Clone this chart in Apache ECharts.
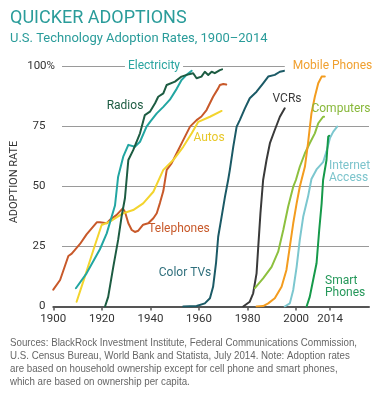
<!DOCTYPE html>
<html><head><meta charset="utf-8">
<script src="https://cdn.jsdelivr.net/npm/echarts@6/dist/echarts.min.js"></script>
<style>html,body{margin:0;padding:0;background:#fff}#c{width:374px;height:400px}</style>
</head><body><div id="c"></div>
<script>
// ---- data ----
const xTickYears = [1900, 1920, 1940, 1960, 1980, 2000, 2014];
const yTicks = [0, 25, 50, 75, 100];

const telYears = [1900, 1902.8, 1906.2, 1907.6, 1911, 1913.7, 1917.9, 1919.2, 1922, 1923.3, 1926, 1928.6, 1929.5, 1930.9, 1932.3, 1933.6, 1935, 1937, 1939.1, 1941.2, 1942.6, 1943.9, 1945.3, 1946.7, 1948.7, 1950.8, 1953.5, 1956.3, 1959, 1961, 1963.1, 1965.8, 1967.9, 1968.6, 1970, 1971.2];
const telVals  = [7, 11, 21, 22, 26, 30, 35, 35, 34.6, 36, 38, 40.8, 39.4, 34.6, 31.8, 31, 31.5, 34, 34.6, 36.7, 38.8, 43, 48, 56.8, 59.5, 63.7, 69.2, 74.8, 77.5, 79, 81.7, 87.2, 90.7, 92.1, 92.5, 92.3];

const elecYears = [1909.3, 1913.7, 1919.2, 1922, 1925.4, 1926.7, 1928.8, 1930.9, 1933.6, 1935.7, 1938.4, 1940, 1942.6, 1945.3, 1948, 1950.8, 1952.8, 1954.9, 1957];
const elecVals  = [7.6, 13.8, 23.8, 30.4, 42, 54, 62.3, 67.2, 66.4, 68.5, 74.8, 77, 80.3, 83, 86, 90.5, 94.2, 96.3, 98];

const radYears = [1921.3, 1922.6, 1924.7, 1926.7, 1928.1, 1929.5, 1930.9, 1932.9, 1935.7, 1937.7, 1939.8, 1941.9, 1943.2, 1945.3, 1946.7, 1950.1, 1952.8, 1954.9, 1957.6, 1959, 1961, 1962.4, 1963.8, 1965.2, 1966.5, 1968.6, 1969.5];
const radVals  = [0, 4, 16.5, 27.7, 37.3, 45, 60.9, 65, 72, 79.6, 81, 84.5, 87.2, 88.6, 92.1, 93.5, 95.6, 96.3, 97, 94.9, 95.6, 97.6, 96.3, 97.6, 97, 98.3, 98.6];

const autoYears = [1909.6, 1913, 1916.5, 1919.9, 1923.3, 1928.8, 1932.9, 1937, 1941.2, 1945.3, 1949.4, 1953.5, 1957, 1959.7, 1964.5, 1969.3];
const autoVals  = [2, 12.4, 23.5, 33.9, 35.3, 38.8, 40.1, 42.9, 47.7, 56.8, 60.9, 66.4, 72, 76.8, 78.9, 81.3];

const ctvYears = [1953.5, 1959, 1962.4, 1964.5, 1965.8, 1967, 1967.9, 1969.3, 1970.7, 1972, 1972.7, 1974.1, 1975.5, 1976.8, 1978.9, 1980.9, 1983.7, 1986.4, 1988.5, 1991.2, 1993.3, 1995.3];
const ctvVals  = [0, 0.2, 1.3, 3.4, 8.2, 18, 29, 37.3, 45.7, 52.6, 56.8, 66.4, 74.8, 77.5, 82.4, 86.6, 89.3, 92.8, 95.6, 96.3, 97.6, 98];

const vcrYears = [1978.2, 1980.9, 1982.3, 1983.7, 1984.4, 1985.3, 1986.4, 1987.8, 1989.2, 1991.2, 1993.3, 1995.3];
const vcrVals  = [0, 2, 5.5, 13.8, 24.9, 38.8, 52.6, 60.9, 67.9, 73.4, 78.9, 82.4];

const compYears = [1983, 1986.4, 1989.9, 1992.6, 1994.7, 1996.7, 1998.8, 1999.9, 2001.5, 2003.6, 2005.6, 2007.7, 2009.1, 2009.8, 2011.1, 2011.5];
const compVals  = [7.6, 11.7, 16.5, 22.8, 31.8, 41.5, 49.8, 52.6, 58.1, 63.7, 67.9, 72, 76.2, 76.8, 78.9, 78.9];

const mobYears = [1983.7, 1986.4, 1988.5, 1991.2, 1994, 1996, 1997.4, 1998.8, 2000.2, 2001.5, 2002.2, 2003.6, 2004.9, 2006.3, 2007.7, 2009.1, 2010.5, 2011.8];
const mobVals  = [0, 0.2, 1.3, 3.4, 8.2, 15.2, 24.9, 34.6, 42.9, 49.8, 52.6, 58.1, 67.9, 80.3, 87.2, 92.8, 95.6, 95.6];

const netYears = [1995.3, 1997.4, 1998.8, 2000.2, 2001.5, 2002.9, 2004.9, 2006.3, 2008.4, 2011.1, 2012.5, 2013.9, 2015.3, 2016.9];
const netVals  = [0, 1.3, 6.9, 16.5, 27.7, 37.3, 45.7, 53, 57, 60, 64.5, 70, 72.7, 74.8];

const smYears = [2004.3, 2005.6, 2007, 2008.4, 2009.5, 2010.5, 2011.1, 2012.5, 2013.2, 2013.6];
const smVals  = [0, 4, 11, 18, 31.8, 42.9, 52.6, 60.9, 70.6, 71];

const footLines = [
  'Sources: BlackRock Investment Institute, Federal Communications Commission,',
  'U.S. Census Bureau, World Bank and Statista, July 2014. Note: Adoption rates',
  'are based on household ownership except for cell phone and smart phones,',
  'which are based on ownership per capita.'
];

// ---- chart ----
const zip = (xs, ys) => xs.map((x, i) => [x, ys[i]]);
const FONT = 'Roboto, "Open Sans", sans-serif';
const FOOT_FONT = '11.5px "Liberation Sans", Arial, sans-serif';

// horizontally condense footnote to the reference's width
const ctx = document.createElement('canvas').getContext('2d');
ctx.font = FOOT_FONT;
const footW = Math.max(...footLines.map(l => ctx.measureText(l).width));
const footScale = 347 / footW;

const seriesDefs = [
  ['Telephones', telYears, telVals, '#c8592a'],
  ['Autos', autoYears, autoVals, '#f3d42e'],
  ['Electricity', elecYears, elecVals, '#22a6a2'],
  ['Radios', radYears, radVals, '#1d5c42'],
  ['Color TVs', ctvYears, ctvVals, '#1b5a66'],
  ['VCRs', vcrYears, vcrVals, '#3a3a3a'],
  ['Computers', compYears, compVals, '#8dc03f'],
  ['Mobile Phones', mobYears, mobVals, '#f39c1f'],
  ['Internet Access', netYears, netVals, '#7cc7cf'],
  ['Smart Phones', smYears, smVals, '#169a4a']
];

const chart = echarts.init(document.getElementById('c'), null, {renderer: 'canvas'});

const label = (text, x, y, color, extra) => ({
  type: 'text', z: 100,
  style: Object.assign({text, x, y, fill: color, font: '12px ' + FONT, textAlign: 'center', textVerticalAlign: 'middle'}, extra || {})
});

chart.setOption({
  animation: false,
  backgroundColor: '#fff',
  grid: [
    {left: 53.3, right: 5, top: 66, bottom: 93.5},
    {left: 62, right: 5, top: 66, bottom: 93.5}
  ],
  xAxis: [
    {
      type: 'value', gridIndex: 0, min: 1900, max: 2030,
      axisLine: {show: true, lineStyle: {color: '#555', width: 2}},
      axisTick: {show: true, length: 4, lineStyle: {color: '#555', width: 1.5}, customValues: xTickYears},
      axisLabel: {customValues: xTickYears, color: '#333', fontSize: 11.5, fontFamily: FONT, margin: 7, formatter: v => String(v)},
      splitLine: {show: false}
    },
    {type: 'value', gridIndex: 1, min: 0, max: 1, show: false}
  ],
  yAxis: [
    {type: 'value', gridIndex: 0, min: 0, max: 100, show: false},
    {
      type: 'value', gridIndex: 1, min: yTicks[0], max: yTicks[yTicks.length - 1], interval: 25,
      axisLine: {show: false}, axisTick: {show: false},
      splitLine: {show: true, lineStyle: {color: '#9a9a9a', width: 1}},
      axisLabel: {
        color: '#333', fontSize: 11.5, fontFamily: FONT, margin: 7,
        formatter: v => v === 100 ? '100%' : v + '{s|}',
        rich: {s: {width: 9.5}}
      }
    }
  ],
  series: seriesDefs.map(([name, xs, ys, color]) => ({
    name, type: 'line', xAxisIndex: 0, yAxisIndex: 0,
    data: zip(xs, ys), showSymbol: false, symbol: 'none', smooth: false,
    lineStyle: {color, width: 2, join: 'round', cap: 'round'}
  })),
  graphic: [
    label('QUICKER ADOPTIONS', 10, 18.5, '#2a9c9a', {font: '18px ' + FONT, textAlign: 'left'}),
    label('U.S. Technology Adoption Rates, 1900\u20132014', 10, 39, '#2a9c9a', {font: '13px ' + FONT, textAlign: 'left'}),
    {type: 'text', z: 100, x: 14, y: 182, rotation: Math.PI / 2,
     style: {text: 'ADOPTION RATE', fill: '#333', font: '11px ' + FONT, textAlign: 'center', textVerticalAlign: 'middle'}},
    label('Electricity', 154, 66, '#2aa5a0', {backgroundColor: '#fff', padding: [1, 3]}),
    label('Radios', 125, 106, '#1d5c42'),
    label('Autos', 209, 138, '#e8c82a'),
    label('Telephones', 179, 229, '#c8592a'),
    label('Color TVs', 185, 273, '#2f6f7c'),
    label('VCRs', 287, 99, '#3a3a3a'),
    label('Mobile Phones', 330, 66, '#f0a030', {backgroundColor: '#fff', padding: [1, 3, 1, 8]}),
    label('Computers', 341, 109, '#88b83a'),
    label('Internet\nAccess', 329, 172, '#7cc4cc', {textAlign: 'left', lineHeight: 12.5}),
    label('Smart\nPhones', 325, 287, '#25985a', {textAlign: 'left', lineHeight: 12.5}),
    {type: 'text', z: 100, x: 10, y: 336.5, scaleX: footScale,
     style: {
       text: footLines.join('\n'),
       fill: '#666', font: FOOT_FONT, lineHeight: 13, textAlign: 'left', textVerticalAlign: 'top'
     }}
  ]
});
</script>
</body></html>
